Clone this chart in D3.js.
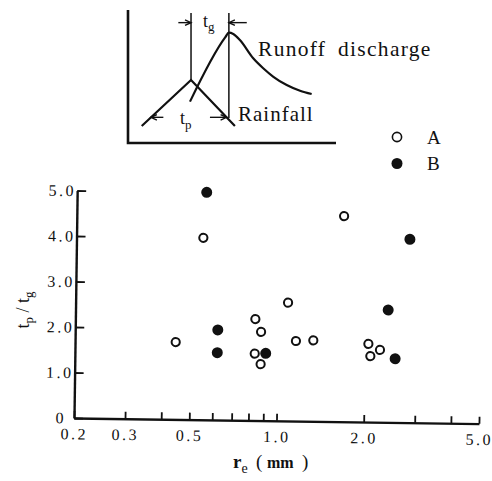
<!DOCTYPE html>
<html><head><meta charset="utf-8">
<script src="https://cdn.jsdelivr.net/npm/d3@7"></script>
<style>
body{margin:0;background:#fff;}
svg text{font-family:"Liberation Serif","DejaVu Serif",serif;fill:#111;}
</style></head><body>
<svg id="chart" width="492" height="481"></svg>
<script>
// Series A (open circles): effective rainfall r_e (mm) vs ratio tp/tg
const reA    = [0.548, 1.673, 1.082, 0.836, 0.876, 0.445, 1.157, 1.328, 0.835, 0.876, 2.058, 2.258, 2.093];
const ratioA = [4.00, 4.52, 2.60, 2.23, 1.95, 1.70, 1.76, 1.78, 1.47, 1.24, 1.72, 1.59, 1.45];
// Series B (filled circles)
const reB    = [0.560, 2.83, 2.40, 0.621, 0.620, 0.911, 2.55];
const ratioB = [5.0, 4.03, 2.47, 1.98, 1.48, 1.48, 1.40];

const xTicks      = [0.2, 0.3, 0.4, 0.5, 0.6, 0.7, 0.8, 0.9, 1, 2, 3, 4, 5];
const xTickLabels = [0.2, 0.3, 0.5, 1, 2, 5];
const yTicks      = [0, 1, 2, 3, 4, 5];
const seriesNames = ["A", "B"];

// Inset hydrograph sketch, in schematic units (time 0-100, level 0-100)
const rainfallPts = [[6.6, 12.8], [30.3, 47.4], [51.4, 12.8]];
const runoffPts   = [[29.8, 31.1], [46.8, 79.6], [48.5, 83.0], [50.6, 82.0], [53.8, 77.4], [60.2, 63.7],
                     [65.0, 56.2], [69.9, 49.8], [76.3, 43.6], [82.7, 39.3], [88.3, 36.8]];
const peakLines   = [[30.3, 47.4, 97.7], [48.5, 18.8, 97.7]];          // [time, from, to]
const tgArrows    = [[24.2, 30.3, 90.5], [57.1, 48.5, 90.5]];          // [tail, tip, level]
const tpArrows    = [[17.0, 11.0, 19.3], [39.4, 47.4, 19.3]];

const svg = d3.select("#chart");
const ink = "#111";

// ---------- inset ----------
const sx = d3.scaleLinear().domain([0, 100]).range([128, 336]);
const sy = d3.scaleLinear().domain([0, 100]).range([143, 10]);
const inset = svg.append("g");

inset.append("path")
  .attr("d", `M${sx(0)},${sy(100)}V${sy(0)}H${sx(100)}`)
  .attr("fill", "none").attr("stroke", ink).attr("stroke-width", 2.6);

const line = d3.line().x(d => sx(d[0])).y(d => sy(d[1]));
inset.append("path").attr("d", line(rainfallPts))
  .attr("fill", "none").attr("stroke", ink).attr("stroke-width", 2.2);
inset.append("path").attr("d", line.curve(d3.curveMonotoneX)(runoffPts))
  .attr("fill", "none").attr("stroke", ink).attr("stroke-width", 2.2);

inset.selectAll(".peak").data(peakLines).join("line")
  .attr("x1", d => sx(d[0])).attr("x2", d => sx(d[0]))
  .attr("y1", d => sy(d[1])).attr("y2", d => sy(d[2]))
  .attr("stroke", ink).attr("stroke-width", 1.5);

function arrows(data) {
  data.forEach(([tail, tip, lv]) => {
    const x0 = sx(tail), x1 = sx(tip), yy = sy(lv), dir = Math.sign(x1 - x0);
    inset.append("line").attr("x1", x0).attr("x2", x1).attr("y1", yy).attr("y2", yy)
      .attr("stroke", ink).attr("stroke-width", 1.4);
    inset.append("path")
      .attr("d", `M${x1 - dir * 6},${yy - 2.8}L${x1},${yy}L${x1 - dir * 6},${yy + 2.8}`)
      .attr("fill", "none").attr("stroke", ink).attr("stroke-width", 1.4);
  });
}
arrows(tgArrows);
arrows(tpArrows);

const tg = inset.append("text").attr("x", 203).attr("y", 27).attr("font-size", 18);
tg.append("tspan").text("t");
tg.append("tspan").attr("font-size", 13).attr("dy", 4).text("g");
const tp = inset.append("text").attr("x", 180).attr("y", 124).attr("font-size", 18);
tp.append("tspan").text("t");
tp.append("tspan").attr("font-size", 13).attr("dy", 5).text("p");

inset.append("text").attr("x", 258).attr("y", 56).attr("font-size", 21.5)
  .attr("letter-spacing", 1.3).attr("word-spacing", 5).text("Runoff discharge");
inset.append("text").attr("x", 238).attr("y", 121).attr("font-size", 21)
  .attr("letter-spacing", 1).text("Rainfall");

// ---------- main plot (slightly tilted frame) ----------
const ox = 74, oy = 418, tilt = 0.8;
const x = d3.scaleLog().domain([0.2, 5]).range([ox, 479]);
const y = d3.scaleLinear().domain([0, 5]).range([oy, 190.5]);
const plot = svg.append("g").attr("transform", `rotate(${tilt},${ox},${oy})`);

const fmt = d => d === 0 ? "0" : d3.format(".1f")(d);

const gx = plot.append("g").attr("transform", `translate(0,${oy})`)
  .call(d3.axisBottom(x).tickValues(xTicks).tickSize(-7).tickSizeOuter(0).tickPadding(10)
    .tickFormat(d => xTickLabels.includes(d) ? fmt(d) : ""));
const gy = plot.append("g").attr("transform", `translate(${ox},0)`)
  .call(d3.axisLeft(y).tickValues(yTicks).tickSize(-9).tickSizeOuter(0).tickPadding(1)
    .tickFormat(fmt));

[gx, gy].forEach(g => {
  g.attr("font-family", null).attr("font-size", null);
  g.select(".domain").attr("stroke", ink).attr("stroke-width", 2.4);
  g.selectAll(".tick line").attr("stroke", ink).attr("stroke-width", 1.8);
  g.selectAll(".tick text").attr("font-size", 16).attr("letter-spacing", 2.5).attr("fill", ink);
});
gy.selectAll(".tick text").filter(d => d === 0).attr("dx", -7);

plot.append("g").selectAll("circle").data(d3.zip(reA, ratioA)).join("circle")
  .attr("cx", d => x(d[0])).attr("cy", d => y(d[1])).attr("r", 4.1)
  .attr("fill", "#fff").attr("stroke", ink).attr("stroke-width", 2);
plot.append("g").selectAll("circle").data(d3.zip(reB, ratioB)).join("circle")
  .attr("cx", d => x(d[0])).attr("cy", d => y(d[1])).attr("r", 5.5)
  .attr("fill", ink);

// axis titles
const yt = svg.append("text").attr("transform", "translate(29,310) rotate(-90)")
  .attr("text-anchor", "middle").attr("font-size", 18);
yt.append("tspan").text("t");
yt.append("tspan").attr("font-size", 13).attr("dy", 4).text("p");
yt.append("tspan").attr("dy", -4).text(" / t");
yt.append("tspan").attr("font-size", 13).attr("dy", 4).text("g");

const xt = svg.append("text").attr("x", 233).attr("y", 468).attr("font-size", 19);
xt.append("tspan").attr("font-weight", "bold").text("r");
xt.append("tspan").attr("font-size", 14).attr("dy", 5).text("e");
xt.append("tspan").attr("x", 256).attr("dy", -5).text("(");
xt.append("tspan").attr("x", 267).attr("font-weight", "bold").attr("font-size", 16).text("mm");
xt.append("tspan").attr("x", 302).text(")");

// legend
const legend = svg.append("g");
seriesNames.forEach((name, i) => {
  const yy = 137 + i * 26.5;
  legend.append("circle").attr("cx", 397).attr("cy", yy).attr("r", i ? 5.5 : 4.6)
    .attr("fill", i ? ink : "#fff").attr("stroke", ink).attr("stroke-width", i ? 0 : 1.6);
  legend.append("text").attr("x", 427).attr("y", yy + 6.5).attr("font-size", 19).text(name);
});
</script>
</body></html>
